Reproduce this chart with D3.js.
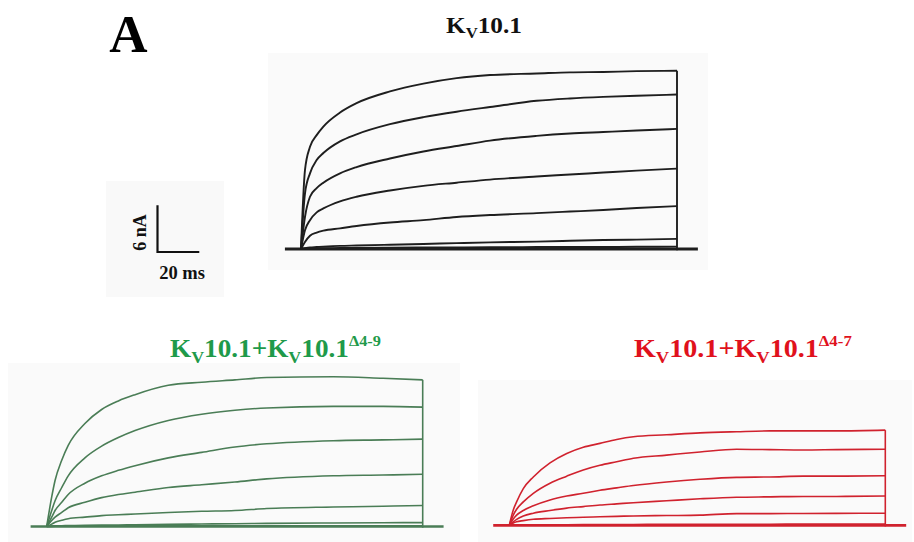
<!DOCTYPE html>
<html><head><meta charset="utf-8">
<script src="https://cdn.jsdelivr.net/npm/d3@7"></script>
<style>
html,body{margin:0;padding:0;background:#fff;}
svg{display:block;}
text{font-family:"Liberation Serif","Times New Roman",serif;font-weight:bold;}
</style></head>
<body>
<svg id="c" width="914" height="542"></svg>
<script>
// ---- Data (time in ms, current in nA) ----
const stepDuration = 180;        // ms
const holdStart = -7.7, holdEnd = 190;
const scaleBarTime = 20;          // ms
const scaleBarCurrent = 6;        // nA

// Kv10.1 (black)
const kvTime = [0, 1.9, 4.3, 7.5, 10.7, 18.7, 26.6, 42.6, 58.6, 74.5, 90.5, 112.8, 128.8, 144.7, 160.7, 180];
const kvTrace1 = [0, 10.1, 13.1, 14.6, 15.7, 17.5, 18.7, 20.2, 21.2, 21.9, 22.3, 22.5, 22.65, 22.7, 22.8, 22.85];
const kvTrace2 = [0, 7.1, 9.7, 11.4, 12.3, 13.8, 14.7, 16.0, 16.9, 17.6, 18.2, 19.0, 19.3, 19.5, 19.65, 19.8];
const kvTrace3 = [0, 4.1, 6.7, 7.8, 8.5, 9.7, 10.5, 11.6, 12.5, 13.2, 13.9, 14.5, 14.8, 15.0, 15.2, 15.4];
const kvTrace4 = [0, 2.4, 3.7, 4.7, 5.2, 6.1, 6.7, 7.5, 8.1, 8.5, 8.9, 9.3, 9.55, 9.8, 10.05, 10.3];
const kvTrace5 = [0, 0.9, 1.7, 2.1, 2.35, 2.65, 2.95, 3.4, 3.7, 4.1, 4.35, 4.6, 4.8, 5.0, 5.25, 5.5];
const kvTrace6 = [0, 0.1, 0.2, 0.25, 0.3, 0.4, 0.45, 0.55, 0.65, 0.75, 0.85, 0.95, 1.05, 1.15, 1.2, 1.3];
const kvTrace7 = [0, 0.05, 0.1, 0.1, 0.1, 0.12, 0.15, 0.18, 0.2, 0.2, 0.22, 0.25, 0.25, 0.25, 0.28, 0.3];

// Kv10.1 + Kv10.1Δ4-9 (green)
const d49Time = [0, 2.4, 4.0, 7.2, 10.3, 18.3, 26.3, 34.3, 42.3, 58.2, 74.2, 90.1, 105.3, 137.2, 161, 180];
const d49Trace1 = [0, 3.8, 5.9, 8.5, 10.4, 13.2, 15.0, 16.1, 16.9, 18.1, 18.5, 18.8, 19.1, 19.2, 19.0, 18.8];
const d49Trace2 = [0, 2.05, 3.3, 5.0, 6.5, 8.8, 10.3, 11.4, 12.3, 13.6, 14.4, 14.9, 15.2, 15.4, 15.4, 15.3];
const d49Trace3 = [0, 1.2, 2.05, 3.1, 4.1, 5.55, 6.5, 7.2, 7.8, 8.8, 9.5, 10.2, 10.6, 11.0, 11.1, 11.2];
const d49Trace4 = [0, 0.77, 1.2, 1.8, 2.4, 3.1, 3.7, 4.1, 4.4, 5.0, 5.35, 5.7, 6.1, 6.5, 6.6, 6.7];
const d49Trace5 = [0, 0.3, 0.55, 0.8, 1.0, 1.2, 1.4, 1.5, 1.6, 1.8, 1.95, 2.05, 2.3, 2.5, 2.6, 2.7];
const d49Trace6 = [0, 0.05, 0.08, 0.1, 0.12, 0.15, 0.18, 0.2, 0.22, 0.28, 0.32, 0.36, 0.4, 0.45, 0.48, 0.5];
const d49Trace7 = [0, 0.02, 0.03, 0.04, 0.05, 0.06, 0.07, 0.08, 0.08, 0.09, 0.1, 0.1, 0.1, 0.1, 0.1, 0.1];

// Kv10.1 + Kv10.1Δ4-7 (red)
const d47Time = [0, 1.9, 3.5, 6.7, 11.5, 19.5, 27.5, 35.4, 43.4, 51.4, 59.4, 75.3, 91.3, 108.8, 124.8, 140.7, 156.7, 180];
const d47Trace1 = [0, 1.96, 3.0, 4.7, 6.2, 8.0, 9.2, 10.0, 10.5, 11.0, 11.35, 11.6, 11.85, 12.0, 12.1, 12.1, 12.1, 12.2];
const d47Trace2 = [0, 1.3, 2.05, 3.0, 4.1, 5.4, 6.3, 7.1, 7.7, 8.15, 8.6, 9.0, 9.4, 9.75, 9.7, 9.65, 9.7, 9.75];
const d47Trace3 = [0, 0.8, 1.3, 1.9, 2.5, 3.25, 3.75, 4.1, 4.5, 4.8, 5.1, 5.55, 5.9, 6.15, 6.2, 6.3, 6.3, 6.35];
const d47Trace4 = [0, 0.45, 0.77, 1.2, 1.55, 1.9, 2.2, 2.4, 2.6, 2.75, 2.9, 3.15, 3.4, 3.6, 3.65, 3.7, 3.7, 3.75];
const d47Trace5 = [0, 0.3, 0.46, 0.6, 0.77, 0.88, 0.97, 1.03, 1.1, 1.15, 1.2, 1.25, 1.3, 1.5, 1.5, 1.52, 1.53, 1.55];
const d47Trace6 = [0, 0.02, 0.04, 0.05, 0.06, 0.07, 0.08, 0.09, 0.1, 0.1, 0.11, 0.12, 0.13, 0.14, 0.14, 0.15, 0.15, 0.15];

// ---- Layout ----
const svg = d3.select("#c");
const pxPerMs = 376 / stepDuration;
const pxPerNA = 7.8;

const panels = [
  {time: kvTime, traces: [kvTrace1, kvTrace2, kvTrace3, kvTrace4, kvTrace5, kvTrace6, kvTrace7],
   color: "#1e1e1e", width: 1.9, baseWidth: 3, stepX: 301, baseY: 249,
   bg: [268, 53, 440, 217]},
  {time: d49Time, traces: [d49Trace1, d49Trace2, d49Trace3, d49Trace4, d49Trace5, d49Trace6, d49Trace7],
   color: "#4a7d56", width: 1.6, baseWidth: 2.6, stepX: 46.7, baseY: 526.5,
   bg: [8, 363, 452, 179]},
  {time: d47Time, traces: [d47Trace1, d47Trace2, d47Trace3, d47Trace4, d47Trace5, d47Trace6],
   color: "#d0222e", width: 1.6, baseWidth: 2.8, stepX: 509.3, baseY: 525.3,
   bg: [478, 380, 434, 162]}
];

// backgrounds
panels.forEach(p => {
  svg.append("rect").attr("x", p.bg[0]).attr("y", p.bg[1]).attr("width", p.bg[2]).attr("height", p.bg[3])
    .attr("fill", "#fafafa");
});
svg.append("rect").attr("x", 106).attr("y", 181).attr("width", 118).attr("height", 116).attr("fill", "#f9f9f9");

panels.forEach(p => {
  const x = d3.scaleLinear().domain([0, stepDuration]).range([p.stepX, p.stepX + stepDuration * pxPerMs]);
  const y = d3.scaleLinear().domain([0, 24]).range([p.baseY, p.baseY - 24 * pxPerNA]);
  const g = svg.append("g");
  const line = d3.line().x(d => x(d[0])).y(d => y(d[1])).curve(d3.curveMonotoneX);
  // baseline / holding current
  g.append("path")
    .attr("d", d3.line().x(d => x(d[0])).y(d => y(d[1]))([[holdStart, 0], [holdEnd, 0]]))
    .attr("fill", "none").attr("stroke", p.color).attr("stroke-width", p.baseWidth);
  // traces
  p.traces.forEach(tr => {
    const pts = p.time.map((t, i) => [t, tr[i]]);
    g.append("path").attr("d", line(pts))
      .attr("fill", "none").attr("stroke", p.color).attr("stroke-width", p.width)
      .attr("stroke-linejoin", "round");
  });
  // step-off (tail) vertical
  const maxEnd = d3.max(p.traces, tr => tr[tr.length - 1]);
  g.append("path")
    .attr("d", d3.line().x(d => x(d[0])).y(d => y(d[1]))([[stepDuration, -0.15], [stepDuration, maxEnd]]))
    .attr("fill", "none").attr("stroke", p.color).attr("stroke-width", p.width);
  p.x = x; p.y = y;
});

// ---- Scale bar ----
{
  const p = panels[0];
  const x0 = 157.5, y0 = 252;
  const lenX = p.x(scaleBarTime) - p.x(0);
  const lenY = p.y(0) - p.y(scaleBarCurrent);
  svg.append("path")
    .attr("d", `M${x0},${y0 - lenY}L${x0},${y0}L${x0 + lenX},${y0}`)
    .attr("fill", "none").attr("stroke", "#111").attr("stroke-width", 2.2);
  svg.append("text").attr("transform", `translate(145.5,232.5) rotate(-90)`)
    .attr("text-anchor", "middle").attr("font-size", 18).attr("fill", "#111")
    .text(`${scaleBarCurrent} nA`);
  svg.append("text").attr("x", 182).attr("y", 278.5).attr("text-anchor", "middle")
    .attr("font-size", 18.5).attr("fill", "#111").text(`${scaleBarTime} ms`);
}

// ---- Titles ----
svg.append("text").attr("x", 128.5).attr("y", 52).attr("text-anchor", "middle")
  .attr("font-size", 53).attr("fill", "#000").text("A");

function title(parts, x0, x1, baseline, size, color) {
  const t = svg.append("text").attr("fill", color).attr("font-size", size);
  parts.forEach(pt => {
    const s = t.append("tspan").text(pt.s);
    if (pt.sub) s.attr("font-size", size * 0.66).attr("dy", size * 0.26);
    else if (pt.sup) s.attr("font-size", size * 0.6).attr("dy", -size * 0.42);
    else if (pt.back) s.attr("dy", pt.back * size);
  });
  const w = t.node().getComputedTextLength();
  t.attr("transform", `translate(${x0},${baseline}) scale(${(x1 - x0) / w},1)`);
}
title([{s: "K"}, {s: "V", sub: true}, {s: "10.1", back: -0.26}], 446, 522, 32.5, 22.5, "#111");
title([{s: "K"}, {s: "V", sub: true}, {s: "10.1+K", back: -0.26}, {s: "V", sub: true}, {s: "10.1", back: -0.26}, {s: "Δ4-9", sup: true}],
  170, 381, 356.5, 25, "#1f9a4a");
title([{s: "K"}, {s: "V", sub: true}, {s: "10.1+K", back: -0.26}, {s: "V", sub: true}, {s: "10.1", back: -0.26}, {s: "Δ4-7", sup: true}],
  634, 852, 356.5, 25, "#e0111c");
</script>
</body></html>
